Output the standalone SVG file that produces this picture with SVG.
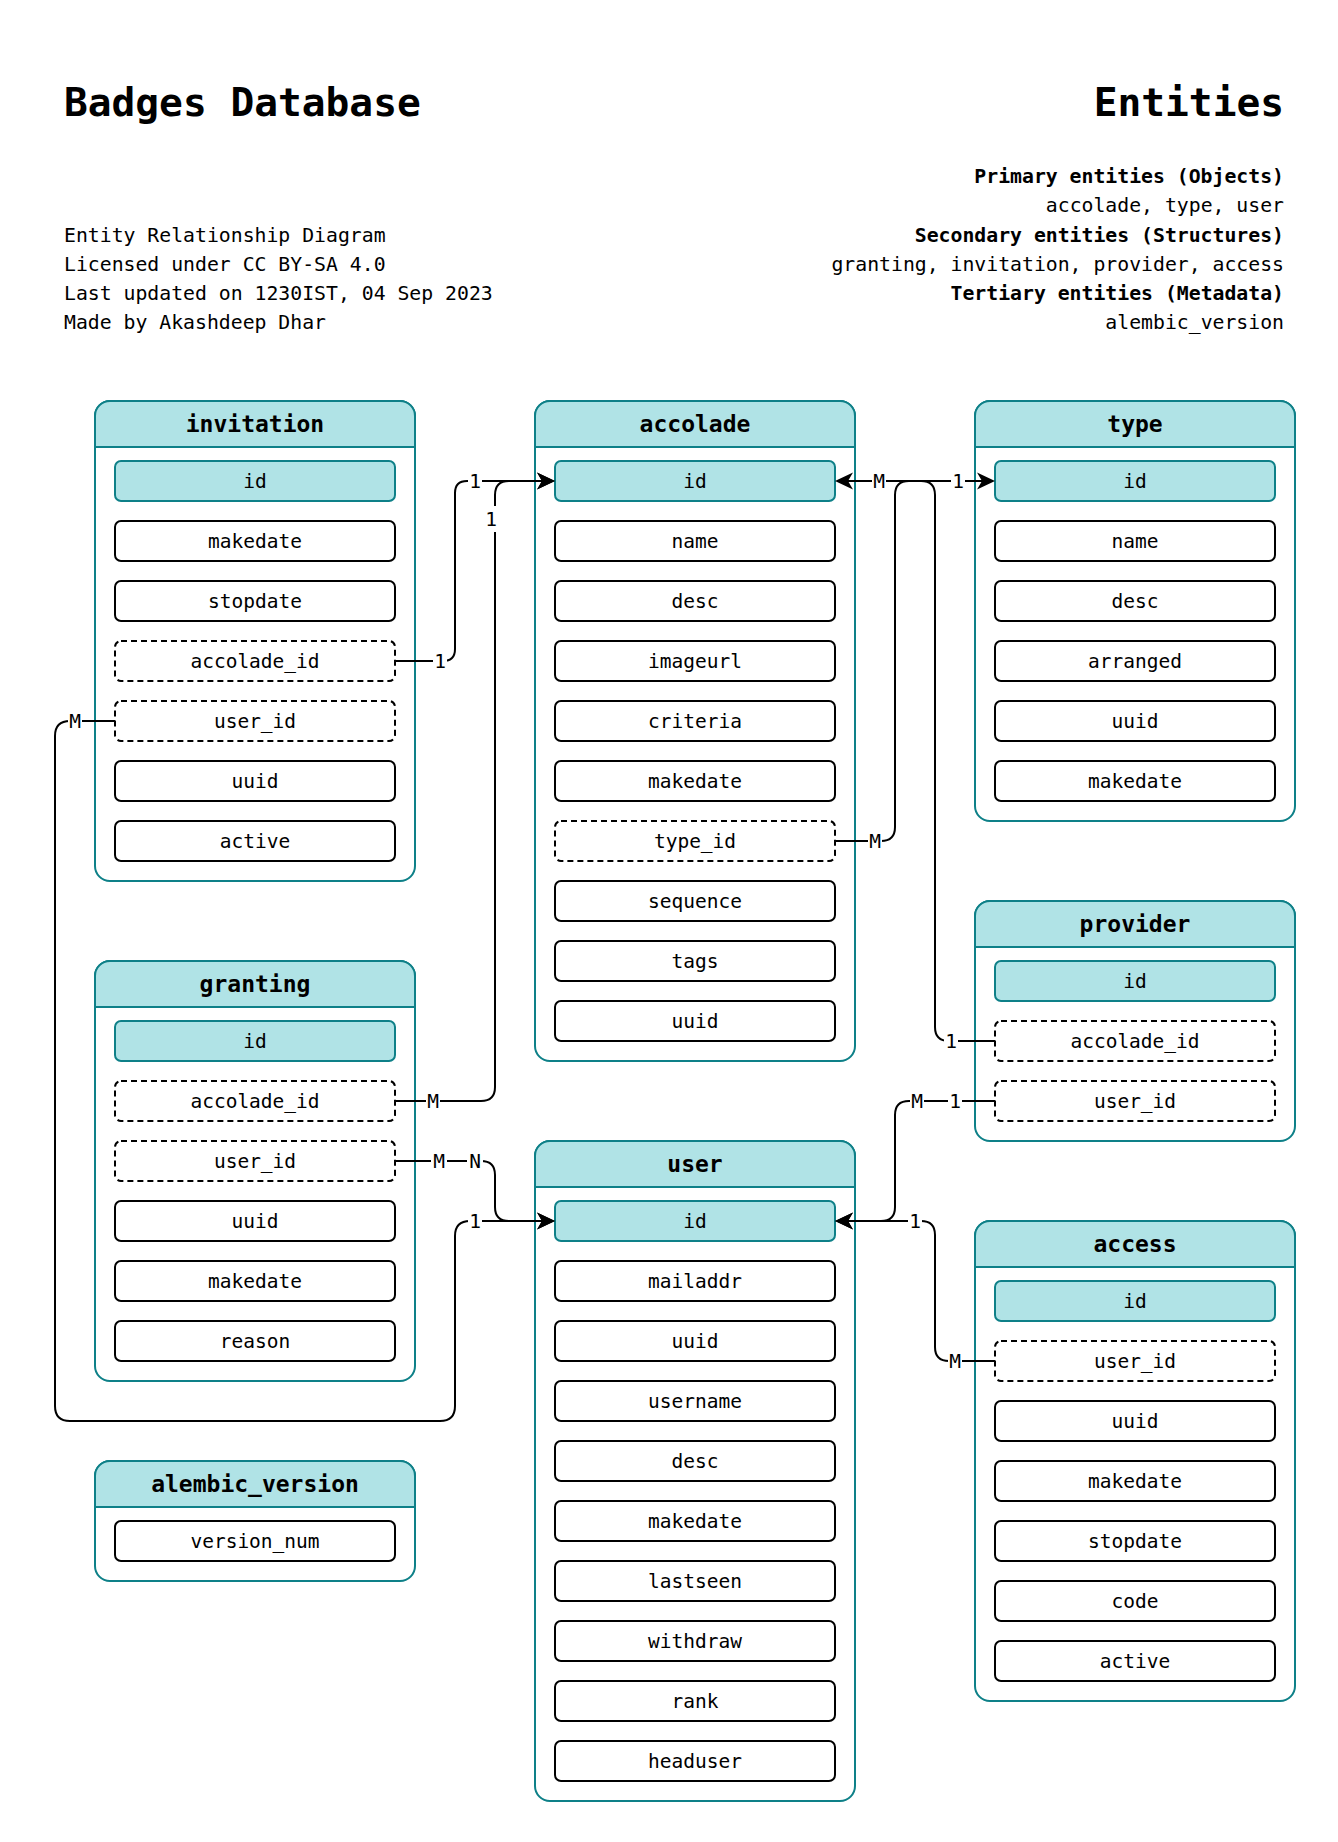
<svg xmlns="http://www.w3.org/2000/svg" width="1338" height="1842" viewBox="0 0 1338 1842">
<style>
text{font-family:"DejaVu Sans Mono","Liberation Mono",monospace;fill:#000}
.title{font-size:39.5px;font-weight:bold}
.info{font-size:19.8px}
.infob{font-size:19.8px;font-weight:bold}
.box{fill:#fff;stroke:#0e8088;stroke-width:2}
.hdr{fill:#b0e3e6;stroke:#0e8088;stroke-width:2}
.ht{font-size:23px;font-weight:bold;text-anchor:middle}
.f{fill:#fff;stroke:#000;stroke-width:2}
.fd{fill:#fff;stroke:#000;stroke-width:2;stroke-dasharray:6 4}
.pk{fill:#b0e3e6;stroke:#0e8088;stroke-width:2}
.ft{font-size:19.5px;text-anchor:middle}
.c{fill:none;stroke:#000;stroke-width:2}
.lb{fill:#fff;stroke:none}
.lt{font-size:19.5px;text-anchor:middle}
</style>
<defs>
<marker id="arr" markerUnits="userSpaceOnUse" viewBox="-20 -10 22 20" markerWidth="22" markerHeight="20" refX="-13" refY="0" orient="auto">
<path d="M0,0 L-18,-8.5 L-13,0 L-18,8.5 Z" fill="#000"/>
</marker>
</defs>
<rect width="1338" height="1842" fill="#fff"/>

<g id="header-left">
<text class="title" x="64" y="116">Badges Database</text>
<text class="info" x="64" y="241.5">Entity Relationship Diagram</text>
<text class="info" x="64" y="270.5">Licensed under CC BY-SA 4.0</text>
<text class="info" x="64" y="300">Last updated on 1230IST, 04 Sep 2023</text>
<text class="info" x="64" y="328.5">Made by Akashdeep Dhar</text>
</g>
<g id="header-right" text-anchor="end">
<text class="title" x="1284" y="116">Entities</text>
<text class="infob" x="1284" y="183">Primary entities (Objects)</text>
<text class="info" x="1284" y="212">accolade, type, user</text>
<text class="infob" x="1284" y="241.5">Secondary entities (Structures)</text>
<text class="info" x="1284" y="270.5">granting, invitation, provider, access</text>
<text class="infob" x="1284" y="300">Tertiary entities (Metadata)</text>
<text class="info" x="1284" y="328.5">alembic_version</text>
</g>

<g id="invitation" transform="translate(95,401)">
<rect class="box" x="0" y="0" width="320" height="480" rx="15"/>
<path class="hdr" d="M0,46 V15 A15,15 0 0 1 15,0 H305 A15,15 0 0 1 320,15 V46 Z"/>
<text class="ht" x="160" y="31">invitation</text>
<rect class="pk" x="20" y="60" width="280" height="40" rx="6"/><text class="ft" x="160" y="87">id</text>
<rect class="f" x="20" y="120" width="280" height="40" rx="6"/><text class="ft" x="160" y="147">makedate</text>
<rect class="f" x="20" y="180" width="280" height="40" rx="6"/><text class="ft" x="160" y="207">stopdate</text>
<rect class="fd" x="20" y="240" width="280" height="40" rx="6"/><text class="ft" x="160" y="267">accolade_id</text>
<rect class="fd" x="20" y="300" width="280" height="40" rx="6"/><text class="ft" x="160" y="327">user_id</text>
<rect class="f" x="20" y="360" width="280" height="40" rx="6"/><text class="ft" x="160" y="387">uuid</text>
<rect class="f" x="20" y="420" width="280" height="40" rx="6"/><text class="ft" x="160" y="447">active</text>
</g>

<g id="accolade" transform="translate(535,401)">
<rect class="box" x="0" y="0" width="320" height="660" rx="15"/>
<path class="hdr" d="M0,46 V15 A15,15 0 0 1 15,0 H305 A15,15 0 0 1 320,15 V46 Z"/>
<text class="ht" x="160" y="31">accolade</text>
<rect class="pk" x="20" y="60" width="280" height="40" rx="6"/><text class="ft" x="160" y="87">id</text>
<rect class="f" x="20" y="120" width="280" height="40" rx="6"/><text class="ft" x="160" y="147">name</text>
<rect class="f" x="20" y="180" width="280" height="40" rx="6"/><text class="ft" x="160" y="207">desc</text>
<rect class="f" x="20" y="240" width="280" height="40" rx="6"/><text class="ft" x="160" y="267">imageurl</text>
<rect class="f" x="20" y="300" width="280" height="40" rx="6"/><text class="ft" x="160" y="327">criteria</text>
<rect class="f" x="20" y="360" width="280" height="40" rx="6"/><text class="ft" x="160" y="387">makedate</text>
<rect class="fd" x="20" y="420" width="280" height="40" rx="6"/><text class="ft" x="160" y="447">type_id</text>
<rect class="f" x="20" y="480" width="280" height="40" rx="6"/><text class="ft" x="160" y="507">sequence</text>
<rect class="f" x="20" y="540" width="280" height="40" rx="6"/><text class="ft" x="160" y="567">tags</text>
<rect class="f" x="20" y="600" width="280" height="40" rx="6"/><text class="ft" x="160" y="627">uuid</text>
</g>

<g id="type" transform="translate(975,401)">
<rect class="box" x="0" y="0" width="320" height="420" rx="15"/>
<path class="hdr" d="M0,46 V15 A15,15 0 0 1 15,0 H305 A15,15 0 0 1 320,15 V46 Z"/>
<text class="ht" x="160" y="31">type</text>
<rect class="pk" x="20" y="60" width="280" height="40" rx="6"/><text class="ft" x="160" y="87">id</text>
<rect class="f" x="20" y="120" width="280" height="40" rx="6"/><text class="ft" x="160" y="147">name</text>
<rect class="f" x="20" y="180" width="280" height="40" rx="6"/><text class="ft" x="160" y="207">desc</text>
<rect class="f" x="20" y="240" width="280" height="40" rx="6"/><text class="ft" x="160" y="267">arranged</text>
<rect class="f" x="20" y="300" width="280" height="40" rx="6"/><text class="ft" x="160" y="327">uuid</text>
<rect class="f" x="20" y="360" width="280" height="40" rx="6"/><text class="ft" x="160" y="387">makedate</text>
</g>

<g id="provider" transform="translate(975,901)">
<rect class="box" x="0" y="0" width="320" height="240" rx="15"/>
<path class="hdr" d="M0,46 V15 A15,15 0 0 1 15,0 H305 A15,15 0 0 1 320,15 V46 Z"/>
<text class="ht" x="160" y="31">provider</text>
<rect class="pk" x="20" y="60" width="280" height="40" rx="6"/><text class="ft" x="160" y="87">id</text>
<rect class="fd" x="20" y="120" width="280" height="40" rx="6"/><text class="ft" x="160" y="147">accolade_id</text>
<rect class="fd" x="20" y="180" width="280" height="40" rx="6"/><text class="ft" x="160" y="207">user_id</text>
</g>

<g id="granting" transform="translate(95,961)">
<rect class="box" x="0" y="0" width="320" height="420" rx="15"/>
<path class="hdr" d="M0,46 V15 A15,15 0 0 1 15,0 H305 A15,15 0 0 1 320,15 V46 Z"/>
<text class="ht" x="160" y="31">granting</text>
<rect class="pk" x="20" y="60" width="280" height="40" rx="6"/><text class="ft" x="160" y="87">id</text>
<rect class="fd" x="20" y="120" width="280" height="40" rx="6"/><text class="ft" x="160" y="147">accolade_id</text>
<rect class="fd" x="20" y="180" width="280" height="40" rx="6"/><text class="ft" x="160" y="207">user_id</text>
<rect class="f" x="20" y="240" width="280" height="40" rx="6"/><text class="ft" x="160" y="267">uuid</text>
<rect class="f" x="20" y="300" width="280" height="40" rx="6"/><text class="ft" x="160" y="327">makedate</text>
<rect class="f" x="20" y="360" width="280" height="40" rx="6"/><text class="ft" x="160" y="387">reason</text>
</g>

<g id="user" transform="translate(535,1141)">
<rect class="box" x="0" y="0" width="320" height="660" rx="15"/>
<path class="hdr" d="M0,46 V15 A15,15 0 0 1 15,0 H305 A15,15 0 0 1 320,15 V46 Z"/>
<text class="ht" x="160" y="31">user</text>
<rect class="pk" x="20" y="60" width="280" height="40" rx="6"/><text class="ft" x="160" y="87">id</text>
<rect class="f" x="20" y="120" width="280" height="40" rx="6"/><text class="ft" x="160" y="147">mailaddr</text>
<rect class="f" x="20" y="180" width="280" height="40" rx="6"/><text class="ft" x="160" y="207">uuid</text>
<rect class="f" x="20" y="240" width="280" height="40" rx="6"/><text class="ft" x="160" y="267">username</text>
<rect class="f" x="20" y="300" width="280" height="40" rx="6"/><text class="ft" x="160" y="327">desc</text>
<rect class="f" x="20" y="360" width="280" height="40" rx="6"/><text class="ft" x="160" y="387">makedate</text>
<rect class="f" x="20" y="420" width="280" height="40" rx="6"/><text class="ft" x="160" y="447">lastseen</text>
<rect class="f" x="20" y="480" width="280" height="40" rx="6"/><text class="ft" x="160" y="507">withdraw</text>
<rect class="f" x="20" y="540" width="280" height="40" rx="6"/><text class="ft" x="160" y="567">rank</text>
<rect class="f" x="20" y="600" width="280" height="40" rx="6"/><text class="ft" x="160" y="627">headuser</text>
</g>

<g id="access" transform="translate(975,1221)">
<rect class="box" x="0" y="0" width="320" height="480" rx="15"/>
<path class="hdr" d="M0,46 V15 A15,15 0 0 1 15,0 H305 A15,15 0 0 1 320,15 V46 Z"/>
<text class="ht" x="160" y="31">access</text>
<rect class="pk" x="20" y="60" width="280" height="40" rx="6"/><text class="ft" x="160" y="87">id</text>
<rect class="fd" x="20" y="120" width="280" height="40" rx="6"/><text class="ft" x="160" y="147">user_id</text>
<rect class="f" x="20" y="180" width="280" height="40" rx="6"/><text class="ft" x="160" y="207">uuid</text>
<rect class="f" x="20" y="240" width="280" height="40" rx="6"/><text class="ft" x="160" y="267">makedate</text>
<rect class="f" x="20" y="300" width="280" height="40" rx="6"/><text class="ft" x="160" y="327">stopdate</text>
<rect class="f" x="20" y="360" width="280" height="40" rx="6"/><text class="ft" x="160" y="387">code</text>
<rect class="f" x="20" y="420" width="280" height="40" rx="6"/><text class="ft" x="160" y="447">active</text>
</g>

<g id="alembic_version" transform="translate(95,1461)">
<rect class="box" x="0" y="0" width="320" height="120" rx="15"/>
<path class="hdr" d="M0,46 V15 A15,15 0 0 1 15,0 H305 A15,15 0 0 1 320,15 V46 Z"/>
<text class="ht" x="160" y="31">alembic_version</text>
<rect class="f" x="20" y="60" width="280" height="40" rx="6"/><text class="ft" x="160" y="87">version_num</text>
</g>

<g id="connectors">
<path class="c" marker-end="url(#arr)" d="M395,661 H443 Q455,661 455,649 V493 Q455,481 467,481 H542"/>
<path class="c" marker-end="url(#arr)" d="M395,1101 H481 Q495,1101 495,1087 V495 Q495,481 509,481 H542"/>
<path class="c" marker-end="url(#arr)" d="M115,721 H70 Q55,721 55,736 V1406 Q55,1421 70,1421 H440 Q455,1421 455,1406 V1236 Q455,1221 470,1221 H542"/>
<path class="c" marker-end="url(#arr)" d="M395,1161 H481 Q495,1161 495,1175 V1207 Q495,1221 509,1221 H542"/>
<path class="c" marker-end="url(#arr)" d="M835,841 H881 Q895,841 895,827 V495 Q895,481 909,481 H982"/>
<path class="c" marker-end="url(#arr)" d="M995,1041 H949 Q935,1041 935,1027 V495 Q935,481 921,481 H848"/>
<path class="c" marker-end="url(#arr)" d="M995,1101 H909 Q895,1101 895,1115 V1207 Q895,1221 881,1221 H848"/>
<path class="c" marker-end="url(#arr)" d="M995,1361 H949 Q935,1361 935,1347 V1235 Q935,1221 921,1221 H848"/>
<g id="labels">
<rect class="lb" x="433" y="649" width="14" height="24"/><text class="lt" x="440" y="668">1</text>
<rect class="lb" x="468" y="469" width="14" height="24"/><text class="lt" x="475" y="488">1</text>
<rect class="lb" x="426" y="1089" width="14" height="24"/><text class="lt" x="433" y="1108">M</text>
<rect class="lb" x="484" y="506" width="14" height="26"/><text class="lt" x="491" y="526">1</text>
<rect class="lb" x="68" y="709" width="14" height="24"/><text class="lt" x="75" y="728">M</text>
<rect class="lb" x="468" y="1209" width="14" height="24"/><text class="lt" x="475" y="1228">1</text>
<rect class="lb" x="431" y="1149" width="16" height="24"/><text class="lt" x="439" y="1168">M</text>
<rect class="lb" x="467" y="1149" width="16" height="24"/><text class="lt" x="475" y="1168">N</text>
<rect class="lb" x="868" y="829" width="14" height="24"/><text class="lt" x="875" y="848">M</text>
<rect class="lb" x="951" y="469" width="14" height="24"/><text class="lt" x="958" y="488">1</text>
<rect class="lb" x="944" y="1029" width="14" height="24"/><text class="lt" x="951" y="1048">1</text>
<rect class="lb" x="872" y="469" width="14" height="24"/><text class="lt" x="879" y="488">M</text>
<rect class="lb" x="910" y="1089" width="14" height="24"/><text class="lt" x="917" y="1108">M</text>
<rect class="lb" x="948" y="1089" width="14" height="24"/><text class="lt" x="955" y="1108">1</text>
<rect class="lb" x="948" y="1349" width="14" height="24"/><text class="lt" x="955" y="1368">M</text>
<rect class="lb" x="908" y="1209" width="14" height="24"/><text class="lt" x="915" y="1228">1</text>
</g>
</g>
</svg>
